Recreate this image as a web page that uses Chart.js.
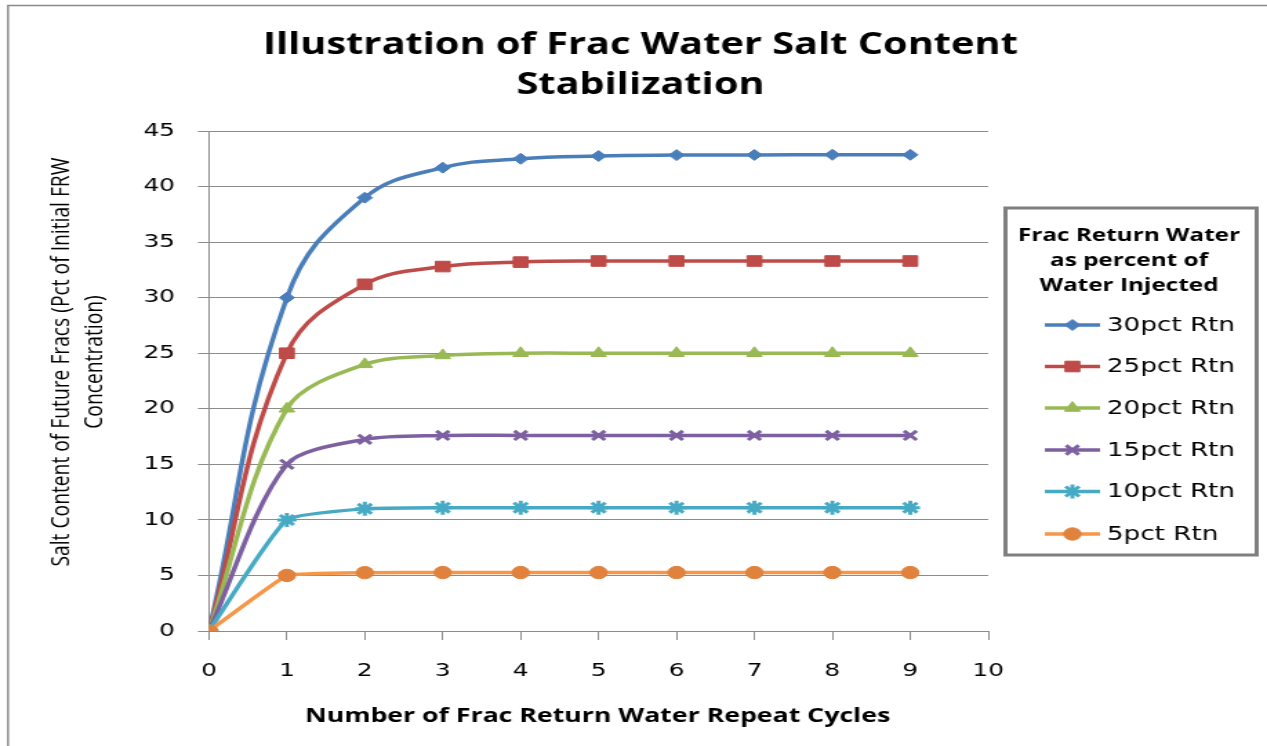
<!DOCTYPE html>
<html>
<head>
<meta charset="utf-8">
<script src="https://cdn.jsdelivr.net/npm/chart.js@4/dist/chart.umd.min.js"></script>
<style>
html,body{margin:0;padding:0;background:#fff;overflow:hidden}
/* the original picture is an Excel chart stretched sideways, so draw narrow and stretch */
#wrap{position:absolute;left:0;top:0;width:918px;height:746px;transform:scaleX(1.3802);transform-origin:0 0}
</style>
</head>
<body>
<div id="wrap"><canvas id="chart"></canvas></div>
<script>

/* -------- DATA -------- */

const cycles = [0,1,2,3,4,5,6,7,8,9];

const rtn30 = [0,30,39,41.7,42.5,42.75,42.83,42.85,42.86,42.86];
const rtn25 = [0,25,31.2,32.8,33.2,33.3,33.3,33.3,33.3,33.3];
const rtn20 = [0,20,24,24.8,25,25,25,25,25,25];
const rtn15 = [0,15,17.25,17.6,17.6,17.6,17.6,17.6,17.6,17.6];
const rtn10 = [0,10,11,11.1,11.1,11.1,11.1,11.1,11.1,11.1];
const rtn5  = [0,5,5.25,5.26,5.26,5.26,5.26,5.26,5.26,5.26];

const seriesNames = ["30pct Rtn","25pct Rtn","20pct Rtn","15pct Rtn","10pct Rtn","5pct Rtn"];

const titleLines = ["Illustration of Frac Water Salt Content","Stabilization"];
const yTitleLines = ["Salt Content of Future Fracs (Pct of Initial FRW","Concentration)"];
const xTitle = "Number of Frac Return Water Repeat Cycles";
const legendTitle = ["Frac Return Water","as percent of","Water Injected"];

const colors = ["#4A7EBB","#BE4B48","#98B954","#7D60A0","#46AAC5","#F79646"];
const markerFill = ["#4A7EBB","#BE4B48","#98B954","#7D60A0","#46AAC5","#E0823C"];
const styles = ["rectRot","rect","triangle","crossRot","star","circle"];
const radii = [5.5,7.5,6.5,6.5,7,6.2];
const bw = [1,1,1,3,3,1];
// Excel's smoothing barely bends the flat low series
const tensions = [0.42,0.4,0.35,0.3,0.15,0.08];

const allSeries = [rtn30,rtn25,rtn20,rtn15,rtn10,rtn5];


/* -------- HELPERS -------- */

function fitText(ctx, text, x, y, target, align){
  const w = ctx.measureText(text).width;
  const s = target ? target / w : 1;
  ctx.save();
  ctx.translate(x, y);
  ctx.scale(s, 1);
  ctx.textAlign = align || "center";
  ctx.fillText(text, 0, 0);
  ctx.restore();
  return s;
}

const framePlugin = {
  id: "frame",
  afterDraw(c){
    const ctx = c.ctx;
    ctx.save();

    // outer border
    ctx.strokeStyle = "#8a8a8a";
    ctx.lineWidth = 1.5;
    ctx.strokeRect(5.8, 5.5, 2000, 2000);

    ctx.fillStyle = "#000";
    ctx.textBaseline = "alphabetic";

    // title
    ctx.font = "bold 30px 'Open Sans'";
    const s1 = ctx.measureText(titleLines[0]).width;
    const sc = 547 / s1;
    fitText(ctx, titleLines[0], 464, 54, s1*sc);
    fitText(ctx, titleLines[1], 464, 94, ctx.measureText(titleLines[1]).width*sc);

    // x title
    ctx.font = "bold 19px 'Open Sans'";
    fitText(ctx, xTitle, 433, 722, 424);

    // y title (rotated)
    ctx.save();
    ctx.translate(0, 362);
    ctx.rotate(-Math.PI/2);
    ctx.font = "19px 'Open Sans'";
    ctx.textBaseline = "middle";
    const yw = ctx.measureText(yTitleLines[0]).width;
    const ys = 409 / yw;
    fitText(ctx, yTitleLines[0], 0, 45, yw*ys);
    fitText(ctx, yTitleLines[1], 0, 69, ctx.measureText(yTitleLines[1]).width*ys);
    ctx.restore();

    // legend box
    ctx.strokeStyle = "#7f7f7f";
    ctx.lineWidth = 3;
    ctx.strokeRect(728.5, 208, 182, 347);

    ctx.font = "bold 18px 'Open Sans'";
    const lw = ctx.measureText(legendTitle[0]).width;
    const ls = 161 / lw;
    legendTitle.forEach((t,i)=>{
      fitText(ctx, t, 818, 241 + i*25, ctx.measureText(t).width*ls);
    });

    const itemY = [325,366.5,408,450,491.5,534];
    ctx.font = "19px 'DejaVu Sans'";
    ctx.textBaseline = "middle";
    ctx.textAlign = "left";
    c.data.datasets.forEach((ds,i)=>{
      const y = itemY[i];
      ctx.strokeStyle = ds.borderColor;
      ctx.lineWidth = 3.5;
      ctx.beginPath();
      ctx.moveTo(757, y);
      ctx.lineTo(797, y);
      ctx.stroke();
      ctx.fillStyle = ds.pointBackgroundColor;
      ctx.strokeStyle = ds.pointBorderColor;
      ctx.lineWidth = ds.pointBorderWidth;
      Chart.helpers.drawPoint(ctx, {
        pointStyle: ds.pointStyle,
        radius: ds.pointRadius,
        rotation: 0,
        borderWidth: ds.pointBorderWidth
      }, 777, y);
      ctx.fillStyle = "#000";
      ctx.fillText(ds.label, 802, y + 1);
    });

    ctx.restore();
  }
};


/* -------- CHART -------- */

const datasets = allSeries.map((vals,i)=>({
  label: seriesNames[i],
  data: vals.map((v,j)=>({x: cycles[j], y: v})),
  borderColor: colors[i],
  borderWidth: 3.5,
  pointStyle: styles[i],
  pointRadius: radii[i],
  pointBackgroundColor: markerFill[i],
  pointBorderColor: markerFill[i],
  pointBorderWidth: bw[i],
  tension: tensions[i],
  fill: false,
  order: 5 - i
}));

new Chart(document.getElementById("chart"), {
  type: "line",
  data: { datasets: datasets },
  options: {
    responsive: true,
    maintainAspectRatio: false,
    animation: false,
    devicePixelRatio: 1,
    layout: { padding: { top: 131, right: 202, bottom: 0, left: 0 } },
    plugins: { legend: { display: false }, tooltip: { enabled: false } },
    scales: {
      x: {
        type: "linear",
        min: 0, max: 10,
        afterFit: s => { s.height = 115; },
        ticks: { stepSize: 1, color: "#000", padding: 21, font: { family: "DejaVu Sans", size: 18 } },
        grid: { drawOnChartArea: false, tickLength: 9, color: "#8c8c8c" },
        border: { color: "#8c8c8c" }
      },
      y: {
        min: 0, max: 45,
        afterFit: s => { s.width = 151.4; },
        ticks: { stepSize: 5, color: "#000", padding: 16.6, font: { family: "DejaVu Sans", size: 18 } },
        grid: { tickLength: 8, color: "#8c8c8c" },
        border: { color: "#8c8c8c" }
      }
    }
  },
  plugins: [framePlugin]
});
</script>
</body>
</html>
